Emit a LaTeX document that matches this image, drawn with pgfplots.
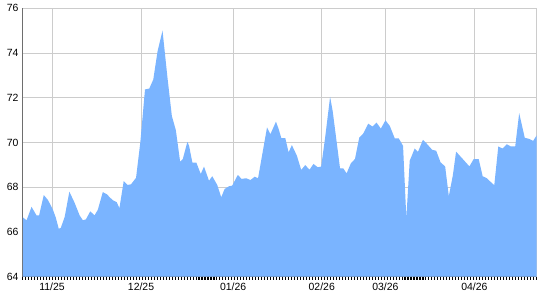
\documentclass[border=0pt]{standalone}
\usepackage{pgfplots}
\pgfplotsset{compat=1.18}
\usepackage{fontspec}
\setmainfont{Liberation Sans}
\definecolor{areablue}{RGB}{122,180,255}
\definecolor{gridgray}{RGB}{204,204,204}
\definecolor{axisgray}{RGB}{110,110,110}
\begin{document}
\begin{tikzpicture}
\begin{axis}[
  at={(0,0)}, anchor=south west,
  scale only axis, width=516.3bp, height=269.7bp,
  xmin=23, xmax=539.3, ymin=64, ymax=76,
  ytick={64,66,...,76},
  xtick={52.3,141.7,234.3,323.3,387.3,476.7},
  xticklabels={11/25,12/25,01/26,02/26,03/26,04/26},
  extra x ticks={539.3}, extra x tick labels={},
  grid=major,
  major grid style={color=gridgray, line width=0.9bp},
  axis lines=left,
  axis line style={-, draw=axisgray, line width=0.9bp},
  major tick length=0pt,
  tick label style={font=\fontsize{10.5bp}{12bp}\selectfont, text=black},
  xticklabel style={yshift=-2.5bp},
  yticklabel style={xshift=-1bp},
  /pgf/number format/assume math mode=true,
  clip=true,
  after end axis/.code={
    \foreach \x in {23,26,...,539} {\draw[black, line width=1.1bp] (axis cs:\x,64) -- ++(0,-3.4bp);}
  },
]
\addplot[fill=areablue, draw=none] coordinates {
(23,66.65) (26.7,66.52) (31.7,67.12) (36.7,66.74) (39.3,66.74) (44,67.65)
(48.3,67.42) (53.3,66.98) (56,66.65) (59,66.15) (61,66.17) (65,66.67)
(69.7,67.8) (75,67.3) (80,66.74) (83.3,66.52) (86.3,66.56) (90.7,66.92)
(95,66.74) (98.3,66.99) (103.3,67.78) (107.5,67.68) (110,67.56) (113.3,67.42)
(117.3,67.33) (120,67.06) (124.3,68.27) (128.3,68.10) (131.7,68.13) (136.7,68.42)
(141,70.0) (145.7,72.37) (150,72.41) (154,72.81) (158.3,74.07) (163.3,75.0)
(168.3,72.89) (172.7,71.18) (176.7,70.55) (181,69.14) (183.7,69.26) (188.3,70.03)
(190,69.85) (193.3,69.10) (197.3,69.10) (201.7,68.59) (205,68.92) (210,68.29)
(213.3,68.49) (218.3,68.10) (222.3,67.55) (225.7,67.92) (230,68.04) (233.3,68.07)
(239,68.55) (242.7,68.37) (247.3,68.40) (251.7,68.32) (256,68.47) (259.3,68.40)
(263.3,69.41) (268.3,70.67) (271.7,70.37) (277.3,70.93) (280,70.60) (282.7,70.19)
(286.7,70.19) (290,69.56) (293.3,69.88) (298.3,69.41) (302.7,68.77) (306.7,68.99)
(311,68.78) (315,69.04) (319.3,68.89) (322.7,68.92) (326.7,70.21) (331.7,72.04)
(334.3,71.40) (341.7,68.84) (345,68.84) (348.3,68.62) (352.7,69.08) (356.7,69.26)
(361,70.22) (365,70.40) (370,70.84) (374.3,70.71) (378.3,70.89) (382.7,70.62)
(387.3,70.99) (391.7,70.74) (396.7,70.18) (400.7,70.18) (405,69.85) (408.3,66.62)
(411.7,69.18) (416.7,69.73) (420,69.58) (425,70.12) (429.3,69.92) (434.3,69.67)
(438.3,69.63) (442.7,69.11) (447.3,68.93) (451,67.60) (455,68.52) (458.3,69.59)
(465,69.26) (471.7,68.93) (476,69.26) (481,69.26) (485,68.49) (489.3,68.40)
(495,68.15) (496.7,68.10) (500.7,69.82) (505,69.73) (509.3,69.92) (513.3,69.82)
(517.7,69.82) (521.7,71.31) (527.3,70.21) (531.7,70.16) (535.7,70.07) (539.3,70.32)
} \closedcycle;
\end{axis}
\useasboundingbox (-23bp,-22bp) rectangle (517bp,278bp);
\end{tikzpicture}
\end{document}
